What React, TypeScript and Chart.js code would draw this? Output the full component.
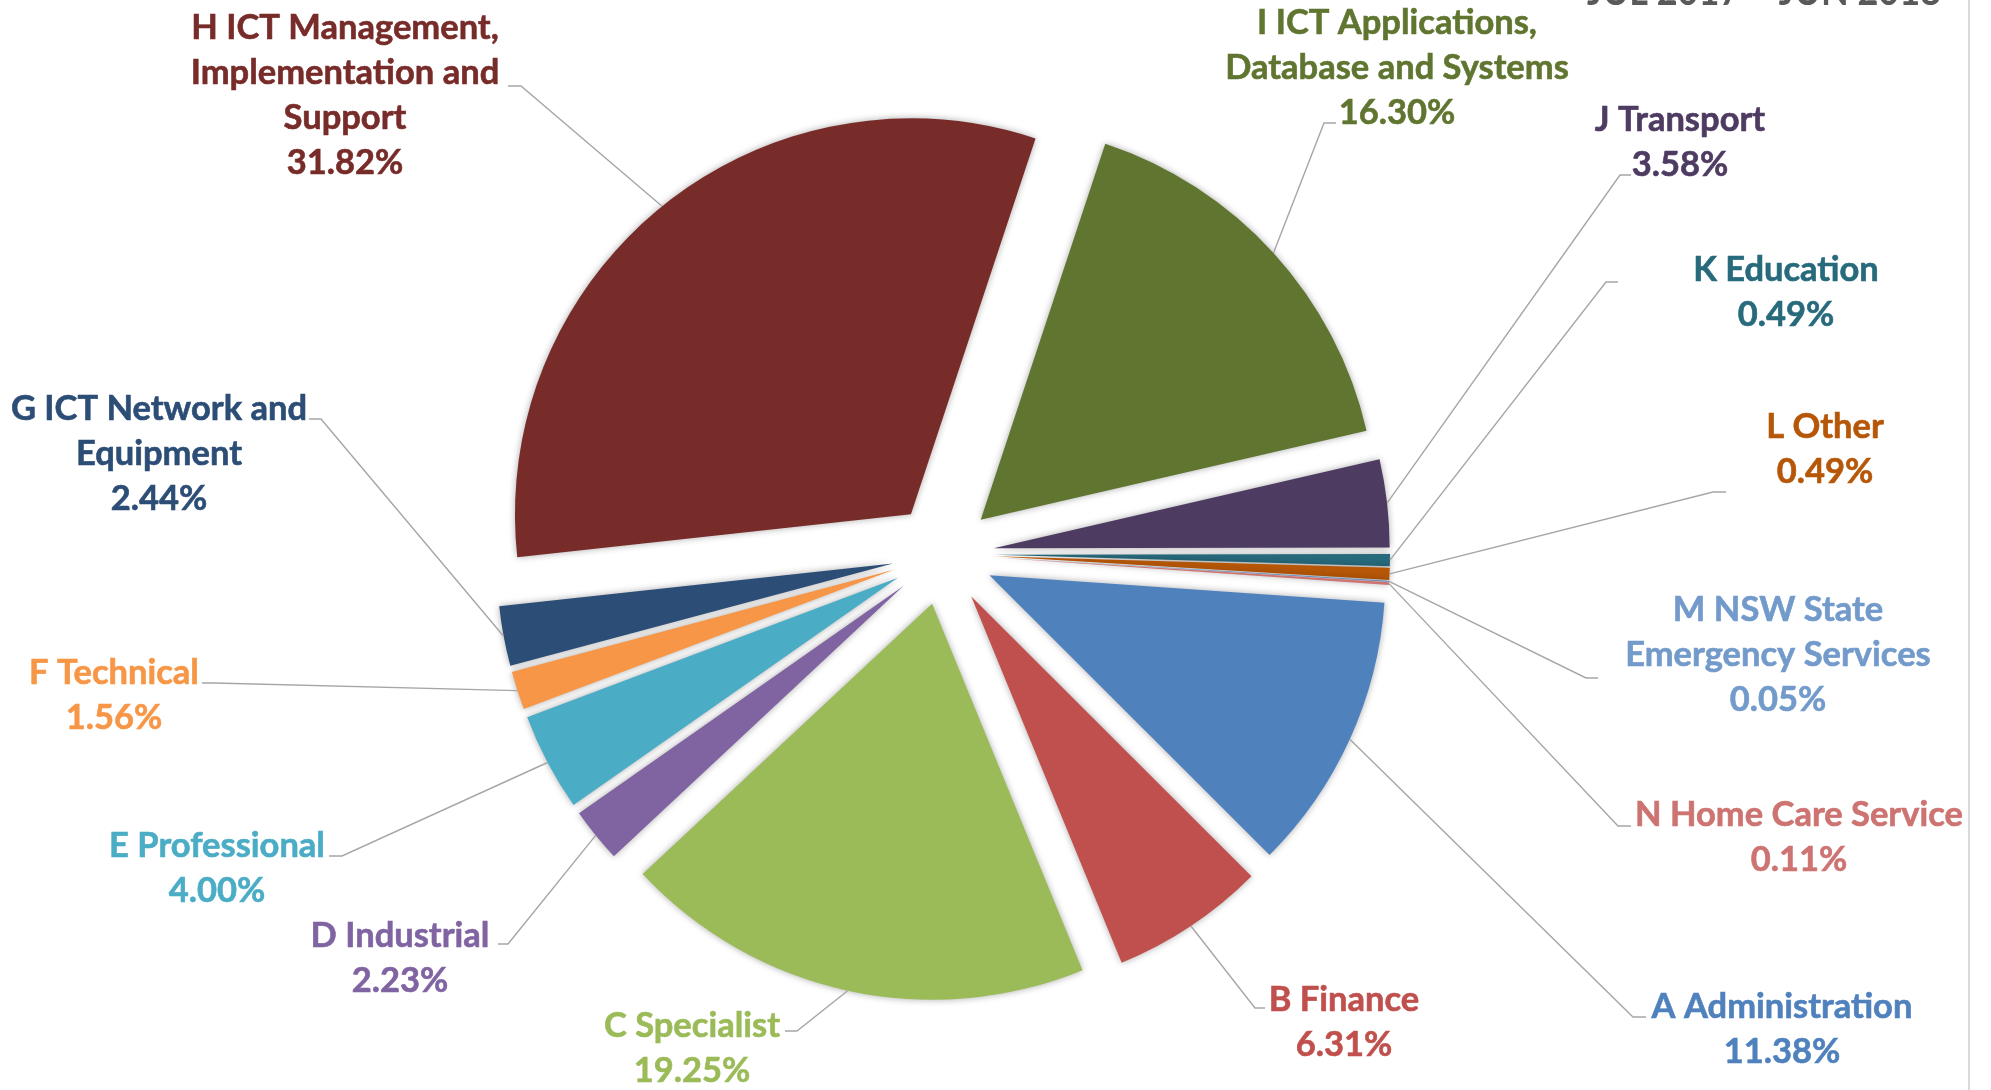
import React, { useEffect, useRef } from 'react';
import { Chart, registerables } from 'chart.js';

Chart.register(...registerables);

// ---------- data ----------
const CATEGORIES: string[][] = [
  ['A Administration'],
  ['B Finance'],
  ['C Specialist'],
  ['D Industrial'],
  ['E Professional'],
  ['F Technical'],
  ['G ICT Network and', 'Equipment'],
  ['H ICT Management,', 'Implementation and', 'Support'],
  ['I ICT Applications,', 'Database and Systems'],
  ['J Transport'],
  ['K Education'],
  ['L Other'],
  ['M NSW State', 'Emergency Services'],
  ['N Home Care Service'],
];

const SHARES: number[] = [11.38, 6.31, 19.25, 2.23, 4.0, 1.56, 2.44, 31.82, 16.3, 3.58, 0.49, 0.49, 0.05, 0.11];

const SLICE_COLORS: string[] = [
  '#4F81BD', '#C0504D', '#9BBB59', '#8064A2', '#4BACC6', '#F79646',
  '#2C4D75', '#772C2A', '#5F7530', '#4D3B62', '#276A7C', '#B65708',
  '#729ACA', '#CD7371',
];

const PERIOD_LABEL = 'JUL 2017 – JUN 2018';

// ---------- layout (label placement) ----------
// cx: text centre x, cy: first line centre y, ey: elbow y, ex0: elbow end near slice, ex1: elbow end near text
const LABEL_LAYOUT = [
  { cx: 1782, cy: 1007, ey: 1017, ex0: 1633, ex1: 1646 },
  { cx: 1344, cy: 1000, ey: 1008, ex0: 1255, ex1: 1265 },
  { cx: 692, cy: 1026, ey: 1031, ex0: 797, ex1: 785 },
  { cx: 400, cy: 936, ey: 944, ex0: 508, ex1: 498 },
  { cx: 217, cy: 846, ey: 856, ex0: 342, ex1: 329 },
  { cx: 114, cy: 673, ey: 683, ex0: 214, ex1: 202 },
  { cx: 159, cy: 409, ey: 419, ex0: 321, ex1: 309 },
  { cx: 345, cy: 28, ey: 86, ex0: 521, ex1: 508 },
  { cx: 1397, cy: 23, ey: 123, ex0: 1324, ex1: 1336 },
  { cx: 1680, cy: 120, ey: 175, ex0: 1620, ex1: 1631 },
  { cx: 1786, cy: 270, ey: 282, ex0: 1606, ex1: 1618 },
  { cx: 1825, cy: 427, ey: 492, ex0: 1713, ex1: 1726 },
  { cx: 1778, cy: 610, ey: 678, ex0: 1586, ex1: 1598 },
  { cx: 1799, cy: 815, ey: 826, ex0: 1618, ex1: 1631 },
];

const FONT_FAMILY = 'Lato, "Open Sans", sans-serif';
const LABEL_FONT_SIZE = 34.5;
const LINE_HEIGHT = 45;
const EXPLODE = 51;
const PIE_RADIUS = 396;

const explodedPiePlugin = {
  id: 'explodedPie',
  beforeDatasetDraw(chart: any, args: any) {
    const ctx = chart.ctx as CanvasRenderingContext2D;
    const meta = args.meta;
    meta.data.forEach((el: any) => {
      const p = el.getProps(['x', 'y', 'startAngle', 'endAngle', 'outerRadius'], true);
      const off = el.options.offset || 0;
      const mid = (p.startAngle + p.endAngle) / 2;
      const cx = p.x + Math.cos(mid) * off;
      const cy = p.y + Math.sin(mid) * off;
      ctx.save();
      ctx.shadowColor = 'rgba(0,0,0,0.33)';
      ctx.shadowBlur = 7;
      ctx.beginPath();
      ctx.moveTo(cx, cy);
      ctx.arc(cx, cy, p.outerRadius, p.startAngle, p.endAngle);
      ctx.closePath();
      ctx.fillStyle = el.options.backgroundColor;
      ctx.fill();
      ctx.restore();
    });
    return false;
  },
  afterDatasetsDraw(chart: any) {
    const ctx = chart.ctx as CanvasRenderingContext2D;
    const meta = chart.getDatasetMeta(0);
    const values = chart.data.datasets[0].data as number[];
    const labels = chart.data.labels as string[][];
    const colors = chart.data.datasets[0].backgroundColor as string[];

    // leader lines
    meta.data.forEach((el: any, i: number) => {
      const lay = LABEL_LAYOUT[i];
      if (!lay) return;
      const p = el.getProps(['x', 'y', 'startAngle', 'endAngle', 'outerRadius'], true);
      const off = el.options.offset || 0;
      const mid = (p.startAngle + p.endAngle) / 2;
      const sx = p.x + Math.cos(mid) * (off + p.outerRadius);
      const sy = p.y + Math.sin(mid) * (off + p.outerRadius);
      ctx.save();
      ctx.strokeStyle = '#A6A6A6';
      ctx.lineWidth = 1.4;
      ctx.beginPath();
      ctx.moveTo(sx, sy);
      ctx.lineTo(lay.ex0, lay.ey);
      ctx.lineTo(lay.ex1, lay.ey);
      ctx.stroke();
      ctx.restore();
    });

    // labels
    meta.data.forEach((_el: any, i: number) => {
      const lay = LABEL_LAYOUT[i];
      if (!lay) return;
      const lines = [...labels[i], values[i].toFixed(2) + '%'];
      ctx.save();
      ctx.font = `700 ${LABEL_FONT_SIZE}px ${FONT_FAMILY}`;
      ctx.fillStyle = colors[i];
      ctx.strokeStyle = colors[i];
      ctx.lineWidth = 0.6;
      ctx.textAlign = 'center';
      ctx.textBaseline = 'middle';
      lines.forEach((t, k) => {
        ctx.fillText(t, lay.cx, lay.cy + k * LINE_HEIGHT);
        ctx.strokeText(t, lay.cx, lay.cy + k * LINE_HEIGHT);
      });
      ctx.restore();
    });

    // period title, cut off at the top edge
    ctx.save();
    ctx.font = `700 40px ${FONT_FAMILY}`;
    const w = ctx.measureText(PERIOD_LABEL).width;
    const s = 354 / w;
    ctx.translate(1941, 5);
    ctx.scale(s, 1);
    ctx.fillStyle = '#595959';
    ctx.textAlign = 'right';
    ctx.textBaseline = 'alphabetic';
    ctx.fillText(PERIOD_LABEL, 0, 0);
    ctx.restore();

    // right frame edge
    ctx.save();
    ctx.strokeStyle = '#D9D9D9';
    ctx.lineWidth = 2;
    ctx.beginPath();
    ctx.moveTo(1969, 0);
    ctx.lineTo(1969, 1090);
    ctx.stroke();
    ctx.restore();
  },
};

export default function App() {
  const canvasRef = useRef<HTMLCanvasElement | null>(null);

  useEffect(() => {
    const canvas = canvasRef.current;
    if (!canvas) return;
    const chart = new Chart(canvas, {
      type: 'pie',
      data: {
        labels: CATEGORIES as any,
        datasets: [
          {
            data: SHARES,
            backgroundColor: SLICE_COLORS,
            borderWidth: 0,
            offset: EXPLODE,
            radius: PIE_RADIUS,
          } as any,
        ],
      },
      options: {
        responsive: false,
        animation: false,
        events: [],
        rotation: 94,
        layout: { padding: { left: 0, right: 105, top: 18, bottom: 0 } },
        plugins: {
          legend: { display: false },
          tooltip: { enabled: false },
          title: { display: false },
        },
      } as any,
      plugins: [explodedPiePlugin as any],
    });
    return () => chart.destroy();
  }, []);

  return (
    <div style={{ position: 'fixed', left: 0, top: 0, width: 1991, height: 1090, background: '#fff' }}>
      <canvas ref={canvasRef} width={1991} height={1090} style={{ display: 'block' }} />
    </div>
  );
}
